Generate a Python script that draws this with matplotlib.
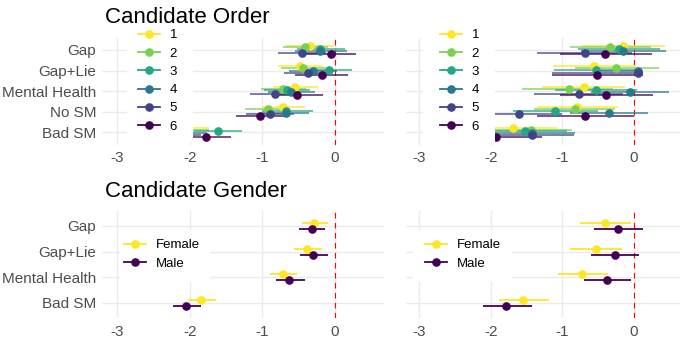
import matplotlib
matplotlib.use("Agg")
import matplotlib.pyplot as plt
from matplotlib.lines import Line2D
from matplotlib.patches import Rectangle
import numpy as np

plt.rcParams['font.family'] = ['Liberation Sans', 'DejaVu Sans']
plt.rcParams['axes.unicode_minus'] = False

categories = ["Gap", "Gap+Lie", "Mental Health", "No SM", "Bad SM"]
gender_categories = ["Gap", "Gap+Lie", "Mental Health", "Bad SM"]
order_groups = ["1", "2", "3", "4", "5", "6"]
order_colors = ["#FDE725", "#7AD151", "#22A884", "#2A788E", "#414487", "#440154"]
gender_groups = ["Female", "Male"]
gender_colors = ["#FDE725", "#440154"]
x_ticks = [-3, -2, -1, 0]

# Candidate Order, left panel: estimate, low, high per group (rows = categories)
order_left_est = [
    [-0.34, -0.48, -0.55, -0.72, -2.05],
    [-0.41, -0.44, -0.71, -0.93, -2.06],
    [-0.21, -0.08, -0.66, -0.67, -1.61],
    [-0.21, -0.30, -0.60, -0.68, -2.10],
    [-0.46, -0.37, -0.83, -0.89, -2.18],
    [-0.06, -0.18, -0.52, -1.03, -1.78],
]
order_left_lo = [
    [-0.68, -0.79, -0.86, -1.01, -2.37],
    [-0.72, -0.75, -1.02, -1.24, -2.38],
    [-0.53, -0.40, -0.98, -1.00, -1.94],
    [-0.55, -0.63, -0.93, -1.00, -2.43],
    [-0.79, -0.70, -1.17, -1.22, -2.51],
    [-0.40, -0.55, -0.86, -1.37, -2.12],
]
order_left_hi = [
    [-0.02, -0.17, -0.23, -0.41, -1.73],
    [-0.10, -0.12, -0.40, -0.62, -1.74],
    [0.14, 0.24, -0.34, -0.30, -1.28],
    [0.16, 0.03, -0.27, -0.36, -1.77],
    [-0.13, -0.05, -0.50, -0.56, -1.85],
    [0.29, 0.18, -0.17, -0.69, -1.43],
]

# Candidate Order, right panel
order_right_est = [
    [-0.15, -0.56, -0.70, -0.79, -1.69],
    [-0.33, -0.25, -0.91, -0.83, -1.44],
    [-0.21, -0.53, -0.53, -1.10, -1.52],
    [-0.15, 0.06, -0.06, -0.35, -1.42],
    [-0.69, 0.06, -0.77, -1.60, -1.42],
    [-0.40, -0.52, -0.39, -0.69, -1.93],
]
order_right_lo = [
    [-0.72, -1.13, -1.28, -1.35, -2.30],
    [-0.90, -0.83, -1.56, -1.40, -2.02],
    [-0.78, -1.12, -1.10, -1.69, -2.10],
    [-0.74, -0.52, -0.60, -0.90, -2.00],
    [-1.35, -1.15, -1.40, -2.20, -2.02],
    [-1.03, -1.15, -1.03, -1.35, -2.57],
]
order_right_hi = [
    [0.43, 0.02, -0.12, -0.22, -1.08],
    [0.24, 0.35, -0.30, -0.26, -0.87],
    [0.36, 0.06, 0.04, -0.50, -0.93],
    [0.44, 0.12, 0.49, 0.20, -0.82],
    [-0.03, 0.12, -0.15, -1.00, -0.84],
    [0.25, 0.13, 0.26, 0.00, -1.29],
]

# Candidate Gender
gender_left_est = [[-0.29, -0.38, -0.71, -1.84], [-0.32, -0.30, -0.63, -2.05]]
gender_left_lo = [[-0.46, -0.56, -0.89, -2.02], [-0.50, -0.48, -0.81, -2.23]]
gender_left_hi = [[-0.09, -0.18, -0.52, -1.64], [-0.14, -0.09, -0.42, -1.85]]
gender_right_est = [[-0.40, -0.53, -0.72, -1.55], [-0.23, -0.26, -0.38, -1.78]]
gender_right_lo = [[-0.75, -0.89, -1.06, -1.88], [-0.56, -0.60, -0.70, -2.11]]
gender_right_hi = [[-0.05, -0.17, -0.36, -1.18], [0.12, 0.07, -0.05, -1.42]]

W, H = 680, 338
fig = plt.figure(figsize=(W / 100, H / 100), dpi=100)


def box(x0, y0, x1, y1):
    return [x0 / W, 1 - y1 / H, (x1 - x0) / W, (y1 - y0) / H]


TEXT_GREY = "#4D4D4D"
GRID = "#EBEBEB"


def panel(rect, xlim, cats, groups, colors, est, lo, hi, width, show_y, bar_alpha):
    ax = fig.add_axes(rect)
    n = len(cats)
    ax.set_xlim(*xlim)
    ax.set_ylim(n - 1 + 0.6, -0.6)
    for s in ax.spines.values():
        s.set_visible(False)
    ax.set_xticks(x_ticks)
    ax.set_xticklabels([str(t) for t in x_ticks])
    ax.set_yticks(range(n))
    if show_y:
        ax.set_yticklabels(cats)
    else:
        ax.set_yticklabels([])
    ax.tick_params(length=0, labelsize=11, colors=TEXT_GREY)
    ax.tick_params(axis='y', pad=4)
    ax.tick_params(axis='x', pad=4.5)
    ax.grid(True, color=GRID, lw=1.0, zorder=0)
    ax.set_axisbelow(True)
    ax.axvline(0, color="red", lw=0.8, linestyle=(0, (5, 4)), zorder=1)
    g = len(groups)
    offs = [(-width / 2 + width / (2 * g) + i * width / g) for i in range(g)]
    ys_all = []
    for i in range(g):
        ys = np.arange(n) + offs[i]
        ys_all.append(ys)
        ax.hlines(ys, lo[i], hi[i], color=colors[i], lw=1.3, alpha=bar_alpha, zorder=2)
    for i in range(g):
        ax.plot(est[i], ys_all[i], 'o', color=colors[i], markersize=5.2, zorder=3)
    return ax


def add_legend(ax, groups, colors, handle_left_px, center_first_px, bg):
    fs = 9.5
    handles = [Line2D([], [], color=c, marker='o', markersize=5.2, lw=1.3) for c in colors]
    x0 = handle_left_px
    y0 = center_first_px - 5
    # white legend background box (in figure pixels)
    bx0, by0, bx1, by1 = bg
    ax.add_patch(Rectangle((bx0 / W, 1 - by1 / H), (bx1 - bx0) / W, (by1 - by0) / H,
                           transform=fig.transFigure, facecolor='white', edgecolor='none',
                           clip_on=False, zorder=9))
    leg = ax.legend(handles, groups, loc='upper left',
                    bbox_to_anchor=(x0 / W, 1 - y0 / H), bbox_transform=fig.transFigure,
                    frameon=False, fontsize=fs, handlelength=1.65, handletextpad=0.75,
                    labelspacing=0.46, borderpad=0, borderaxespad=0)
    for t in leg.get_texts():
        t.set_color("black")
    leg.set_zorder(10)
    return leg


ax_tl = panel(box(101.7, 37.6, 384, 144.7), (-3.215, 0.675), categories, order_groups, order_colors,
              order_left_est, order_left_lo, order_left_hi, 0.5, True, 0.75)
ax_tr = panel(box(406, 37.6, 680, 144.7), (-3.18, 0.64), categories, order_groups, order_colors,
              order_right_est, order_right_lo, order_right_hi, 0.5, False, 0.75)
ax_bl = panel(box(101.7, 210.6, 384, 318.4), (-3.215, 0.675), gender_categories, gender_groups, gender_colors,
              gender_left_est, gender_left_lo, gender_left_hi, 0.48, True, 1.0)
ax_br = panel(box(406, 210.6, 680, 318.4), (-3.18, 0.64), gender_categories, gender_groups, gender_colors,
              gender_right_est, gender_right_lo, gender_right_hi, 0.48, False, 1.0)

add_legend(ax_tl, order_groups, order_colors, 138, 34, (127, 19, 193, 142))
add_legend(ax_tr, order_groups, order_colors, 440, 34, (423, 19, 495, 142))
add_legend(ax_bl, gender_groups, gender_colors, 124, 244, (120, 230, 210, 282))
add_legend(ax_br, gender_groups, gender_colors, 425, 244, (413, 230, 512, 282))

fig.text(105 / W, 1 - 23 / H, "Candidate Order", fontsize=16, ha='left', va='baseline', zorder=20)
fig.text(105 / W, 1 - 196.7 / H, "Candidate Gender", fontsize=16, ha='left', va='baseline', zorder=20)

fig.savefig("out.png", dpi=100)
